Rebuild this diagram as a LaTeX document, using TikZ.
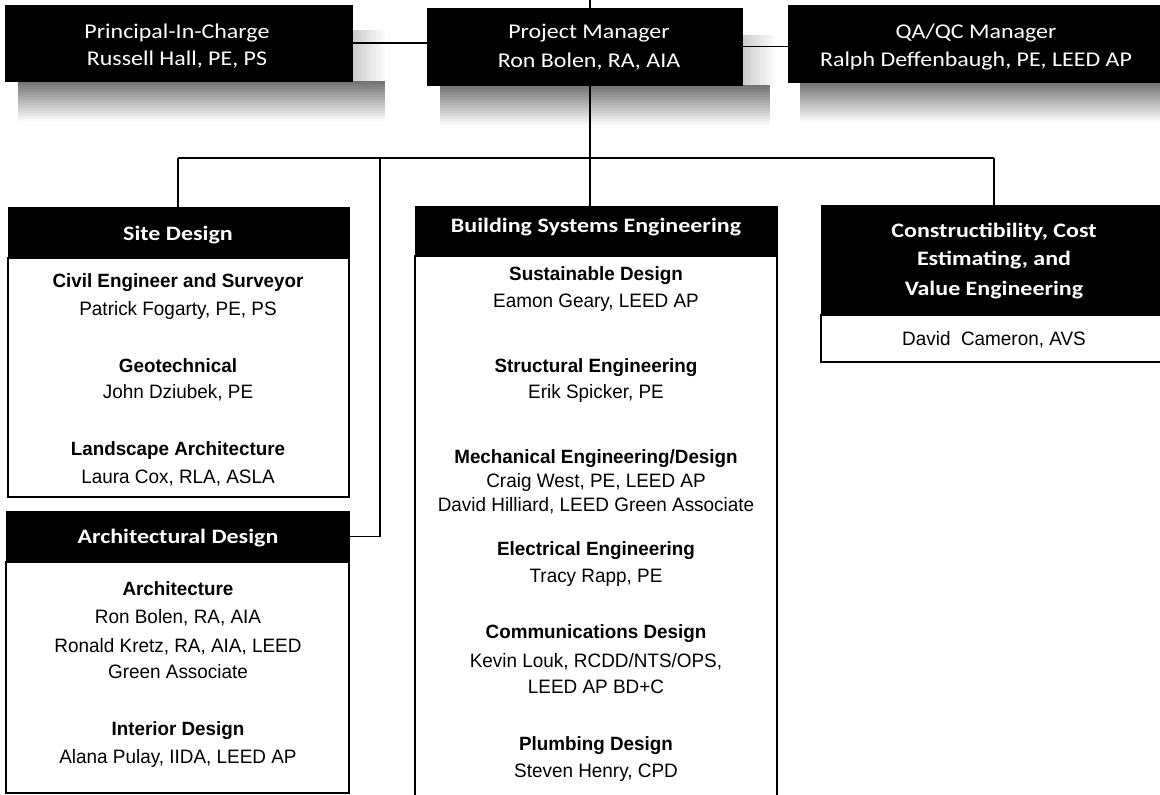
\documentclass[tikz,border=0pt]{standalone}
\usepackage{fontspec}
\newfontfamily\hdrfont[FakeStretch=1.14]{Carlito}
\newfontfamily\ttlfont[FakeStretch=1.17]{Carlito}
\newfontfamily\rolefont[FakeStretch=0.98]{Liberation Sans}
\newfontfamily\personfont[FakeStretch=0.975]{Liberation Sans}
\newcommand\softshadow[5]{% #1 left x, #2 box right x, #3 shadow right x, #4 strip top y, #5 box bottom y
  \foreach \i in {0,...,19}{%
    \pgfmathsetmacro\shv{55-2.75*\i}%
    \fill[black!\shv] (#1,#5+2*\i) rectangle (#3,#5+2*\i+2.2);
  }%
  \foreach \j in {0,...,10}{%
    \pgfmathsetmacro\shw{20-1.8*\j}%
    \fill[black!\shw] (#2+3*\j,#4) rectangle (#2+3*\j+3.2,#5);
  }%
}
\begin{document}
\begin{tikzpicture}[x=1pt,y=-1pt,
  hdr/.style={fill=black, draw=black, line width=1pt, inner sep=0pt, outer sep=0pt, anchor=north west},
  bodybox/.style={draw=black, line width=1.6pt, fill=white, inner sep=0pt, outer sep=0pt, anchor=north west},
  toptxt/.style={text=white, font=\hdrfont\fontsize{21}{25}\selectfont, anchor=base, inner sep=0pt},
  ttl/.style={text=white, font=\ttlfont\bfseries\fontsize{20.5}{25}\selectfont, anchor=base, inner sep=0pt},
  role/.style={font=\rolefont\bfseries\fontsize{19.2}{23}\selectfont, anchor=base, inner sep=0pt},
  person/.style={font=\personfont\fontsize{19.4}{23}\selectfont, anchor=base, inner sep=0pt},
  conn/.style={line width=1.8pt, draw=black}]
\clip (0,0) rectangle (1160,795);
\fill[white] (0,0) rectangle (1160,795);

% shadows of the top boxes
\softshadow{18}{352}{385}{30}{81}
\softshadow{440}{742}{770}{35}{85}
\softshadow{800}{1160}{1165}{30}{82}

% connector coordinates
\coordinate (topend) at (590,-5);
\coordinate (busL) at (178,158);
\coordinate (busA) at (380,158);
\coordinate (busM) at (590,158);
\coordinate (busR) at (994,158);

% top boxes
\node[hdr, minimum width=347pt, minimum height=76pt] (pic) at (5,5) {};
\node[hdr, minimum width=315pt, minimum height=77pt] (pm) at (427,8) {};
\node[hdr, minimum width=377pt, minimum height=77pt] (qa) at (788,5) {};

% bodies
\node[bodybox, minimum width=341pt, minimum height=239pt] (siteb) at (8,258) {};
\node[bodybox, minimum width=343pt, minimum height=231pt] (archb) at (6,562) {};
\node[bodybox, minimum width=362pt, minimum height=580pt] (bseb) at (415,256) {};
\node[bodybox, minimum width=345pt, minimum height=47pt] (consb) at (821,315) {};

% headers
\node[hdr, minimum width=341pt, minimum height=51pt] (site) at (8,207) {};
\node[hdr, minimum width=343pt, minimum height=51pt] (arch) at (6,511) {};
\node[hdr, minimum width=362pt, minimum height=50pt] (bse) at (415,206) {};
\node[hdr, minimum width=345pt, minimum height=110pt] (cons) at (821,205) {};

% connectors
\draw[conn] (topend) -- (busM) -- (busM |- bse.north);
\draw[conn] (pic.east) -- (pic.east -| pm.west);
\draw[conn] (pm.east) -- (pm.east -| qa.west);
\draw[conn] (busL) -- (busR);
\draw[conn] (busL) -- (busL |- site.north);
\draw[conn] (busR) -- (busR |- cons.north);
\draw[conn] (busA) -- (busA |- arch.east) -- (arch.east);

% top texts
\node[toptxt] (pic1) at (177,38) {Principal-In-Charge};
\node[toptxt] (pic2) at (177,65) {Russell Hall, PE, PS};
\node[toptxt] (pm1) at (589,38) {Project Manager};
\node[toptxt] (pm2) at (589,67) {Ron Bolen,\ RA, AIA};
\node[toptxt] (qa1) at (976,38) {QA/QC Manager};
\node[toptxt] (qa2) at (976,66) {Ralph Deffenbaugh,\ PE, LEED AP};

% header titles
\node[ttl] (siteT) at (178,240) {Site Design};
\node[ttl] (archT) at (178,543) {Architectural Design};
\node[ttl] (bseT) at (596,232) {Building Systems Engineering};
\node[ttl] (consT1) at (994,237) {Constructibility, Cost};
\node[ttl] (consT2) at (994,265) {Estimating,\ and};
\node[ttl] (consT3) at (994,295) {Value Engineering};

% site design
\node[role] (s1) at (178,287) {Civil Engineer and Surveyor};
\node[person] (s2) at (178,315) {Patrick Fogarty, PE, PS};
\node[role] (s3) at (178,372) {Geotechnical};
\node[person] (s4) at (178,398) {John Dziubek,\ PE};
\node[role] (s5) at (178,455) {Landscape Architecture};
\node[person] (s6) at (178,483) {Laura Cox, RLA, ASLA};

% architectural design
\node[role] (a1) at (178,595) {Architecture};
\node[person] (a2) at (178,623) {Ron Bolen,\ RA, AIA};
\node[person] (a3) at (178,652) {Ronald Kretz,\ RA, AIA, LEED};
\node[person] (a4) at (178,678) {Green Associate};
\node[role] (a5) at (178,735) {Interior Design};
\node[person] (a6) at (178,763) {Alana Pulay,\ IIDA, LEED\ AP};

% building systems engineering
\node[role] (b1) at (596,280) {Sustainable Design};
\node[person] (b2) at (596,307) {Eamon Geary,\ LEED\ AP};
\node[role] (b3) at (596,372) {Structural Engineering};
\node[person] (b4) at (596,398) {Erik Spicker,\ PE};
\node[role] (b5) at (596,463) {Mechanical Engineering/Design};
\node[person] (b6) at (596,487) {Craig West, PE, LEED AP};
\node[person] (b7) at (596,511) {David Hilliard,\ LEED\ Green Associate};
\node[role] (b8) at (596,555) {Electrical Engineering};
\node[person] (b9) at (596,582) {Tracy Rapp, PE};
\node[role] (b10) at (596,638) {Communications Design};
\node[person] (b11) at (596,667) {Kevin Louk,\ RCDD/NTS/OPS,};
\node[person] (b12) at (596,693) {LEED AP BD+C};
\node[role] (b13) at (596,750) {Plumbing Design};
\node[person] (b14) at (596,777) {Steven Henry, CPD};

% constructibility
\node[person] (c1) at (994,345) {David\ \ Cameron, AVS};
\end{tikzpicture}
\end{document}
